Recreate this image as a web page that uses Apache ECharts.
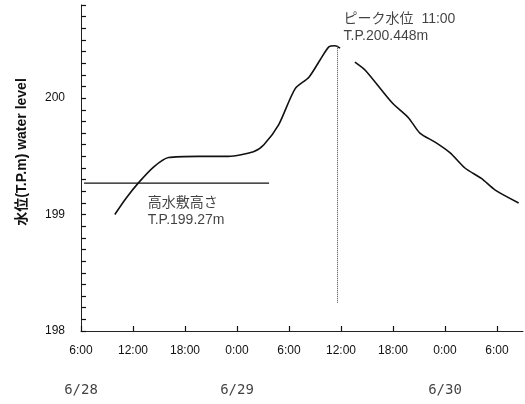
<!DOCTYPE html>
<html><head><meta charset="utf-8">
<script src="https://cdn.jsdelivr.net/npm/echarts@6/dist/echarts.min.js"></script>
<style>html,body{margin:0;padding:0;background:#fff}#c{width:525px;height:404px}</style>
</head><body><div id="c"></div>
<script>
// hours counted from 6/28 0:00
const riseHours  = [9.9, 11.2, 12.6, 14.4, 16.1, 19.6, 23.0, 25.9, 27.1, 28.8, 30.7, 32.3, 33.6, 34.6, 35.3, 35.9];
const riseLevels = [199.0, 199.14, 199.27, 199.41, 199.49, 199.50, 199.50, 199.54, 199.60, 199.77, 200.08, 200.18, 200.33, 200.44, 200.45, 200.43];
const fallHours  = [37.6, 38.8, 41.9, 43.8, 45.1, 46.9, 48.6, 50.3, 52.2, 53.8, 56.5];
const fallLevels = [200.31, 200.24, 199.96, 199.83, 199.70, 199.62, 199.53, 199.40, 199.31, 199.21, 199.10];
const floodplainHours = [6.35, 27.7];
const floodplainLevel = 199.27;
const peakLineHour = 35.6;
const peakLineLevels = [200.45, 198.24];
const timeTickHours = [6, 12, 18, 24, 30, 36, 42, 48, 54];
const dateTickHours = [6, 24, 48];
const dateTickLabels = ['6/28', '6/29', '6/30'];
const floodLabel = '高水敷高さ\nT.P.199.27m';
const floodLabelAt = [13.7, 199.025];
const peakLabel = 'ピーク水位  11:00\nT.P.200.448m';
const peakLabelAt = [36.3, 200.605];
const yTitle = '水位(T.P.m) water level';

const FONT = '"Liberation Sans", "Noto Sans CJK JP", sans-serif';
const zip = (a, b) => a.map((x, i) => [x, b[i]]);

const chart = echarts.init(document.getElementById('c'), null, {renderer: 'canvas'});
chart.setOption({
  backgroundColor: '#fff',
  animation: false,
  grid: {left: 81, top: 5, right: 2, bottom: 73},
  xAxis: {
    type: 'value', min: 6, max: 57, interval: 6,
    axisLine: {show: true, lineStyle: {color: '#222', width: 1}},
    axisTick: {show: false},
    splitLine: {show: false},
    axisLabel: {margin: 14, color: '#111', fontSize: 12, fontFamily: FONT, showMaxLabel: false,
      formatter: v => ((v % 24) + ':00')}
  },
  yAxis: {
    type: 'value', min: 198, max: 200.8, interval: 1,
    axisLine: {show: true, lineStyle: {color: '#222', width: 1}},
    axisTick: {show: true, inside: true, length: 5, lineStyle: {color: '#111', width: 1.2}},
    minorTick: {show: true, splitNumber: 10, length: 5, lineStyle: {color: '#111', width: 1.2}},
    splitLine: {show: false},
    axisLabel: {margin: 16, color: '#111', fontSize: 12, fontFamily: FONT, showMaxLabel: false}
  },
  graphic: [{
    type: 'text', x: 22, y: 152, rotation: Math.PI / 2,
    style: {text: yTitle, font: 'bold 14px ' + FONT, fill: '#111', align: 'center', verticalAlign: 'middle'}
  }],
  series: [
    {type: 'line', data: zip(riseHours, riseLevels), smooth: 0.25, symbol: 'none',
     lineStyle: {color: '#111', width: 1.6}},
    {type: 'line', data: zip(fallHours, fallLevels), smooth: 0.25, symbol: 'none',
     lineStyle: {color: '#111', width: 1.6}},
    {type: 'line', data: floodplainHours.map(h => [h, floodplainLevel]), symbol: 'none',
     lineStyle: {color: '#111', width: 1.2}},
    {type: 'line', data: peakLineLevels.map(v => [peakLineHour, v]), symbol: 'none',
     lineStyle: {color: '#444', width: 1, type: 'dotted'}},
    {type: 'custom', silent: true, clip: false,
     data: timeTickHours.map(h => [h, 198]),
     renderItem: (params, api) => {
       const p = api.coord([api.value(0), api.value(1)]);
       const x = Math.round(p[0]) + 0.5;
       return {type: 'line', shape: {x1: x, y1: p[1], x2: x, y2: p[1] - 5},
               style: {stroke: '#111', lineWidth: 1.2}};
     }},
    {type: 'scatter', symbolSize: 0, silent: true, clip: false,
     data: [floodLabelAt, peakLabelAt].map((p, i) => ({value: p, label: {formatter: i === 0 ? floodLabel : peakLabel}})),
     label: {show: true, position: 'right', distance: 0, color: '#111', fontSize: 14, lineHeight: 17, fontFamily: FONT}},
    {type: 'scatter', symbolSize: 0, silent: true, clip: false,
     data: dateTickHours.map((h, i) => ({value: [h, 198], label: {formatter: dateTickLabels[i]}})),
     label: {show: true, position: 'bottom', distance: 52, color: '#111', fontSize: 14,
             fontFamily: '"DejaVu Sans Mono", monospace'}}
  ]
});
</script></body></html>
